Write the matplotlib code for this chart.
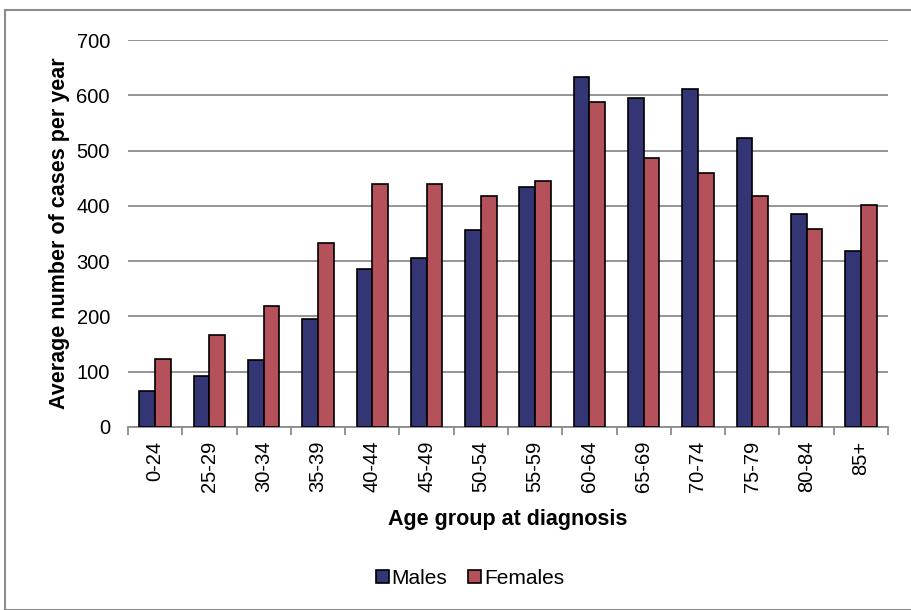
import numpy as np
import matplotlib
matplotlib.use('Agg')
import matplotlib.pyplot as plt
from matplotlib.patches import Rectangle

plt.rcParams['font.family'] = ['Liberation Sans', 'DejaVu Sans']

ageGroups = ['0-24', '25-29', '30-34', '35-39', '40-44', '45-49', '50-54',
             '55-59', '60-64', '65-69', '70-74', '75-79', '80-84', '85+']
males = [65, 92, 121, 196, 286, 306, 356, 434, 633, 595, 611, 522, 385, 318]
females = [123, 166, 219, 333, 439, 439, 417, 445, 588, 486, 459, 418, 358, 401]
yTicks = [0, 100, 200, 300, 400, 500, 600, 700]

maleColor = '#343575'
femaleColor = '#b5515a'

fig = plt.figure(figsize=(9.11, 6.10), dpi=100)
ax = fig.add_axes([128 / 911, 1 - 427 / 610, 760 / 911, 387 / 610])

# outer chart frame like the spreadsheet export
fig.patches.append(Rectangle((5 / 911, 0), 1.2, 1 - 10 / 610, transform=fig.transFigure,
                             fill=False, edgecolor='#8c8c8c', lw=1.5))

x = np.arange(len(ageGroups))
w = 0.29
ax.bar(x - w / 2, males, w, color=maleColor, edgecolor='black', lw=1.2, label='Males', zorder=3)
ax.bar(x + w / 2, females, w, color=femaleColor, edgecolor='black', lw=1.2, label='Females', zorder=3)

ax.set_xlim(-0.5, len(ageGroups) - 0.5)
ax.set_ylim(0, 700)
ax.set_yticks(yTicks)
ax.yaxis.grid(True, color='#8c8c8c', lw=1.3, zorder=0)
ax.tick_params(axis='y', length=0, labelsize=14.5, pad=13)

ax.set_xticks(x)
ax.set_xticklabels(ageGroups, rotation=90, fontsize=14.5)
ax.tick_params(axis='x', which='major', length=0, pad=10)
ax.set_xticks(np.arange(-0.5, len(ageGroups)), minor=True)
ax.tick_params(axis='x', which='minor', length=6, color='#8c8c8c', width=1.3)

for s in ['top', 'right', 'left']:
    ax.spines[s].set_visible(False)
ax.spines['bottom'].set_color('#8c8c8c')
ax.spines['bottom'].set_linewidth(1.3)

ax.set_ylabel('Average number of cases per year', fontsize=15.5, fontweight='bold')
ax.yaxis.set_label_coords((70 - 128) / 760, 0.5)
ax.set_xlabel('Age group at diagnosis', fontsize=15.5, fontweight='bold', labelpad=12)

fig.legend(loc='center', bbox_to_anchor=(470 / 911, 1 - 578 / 610), ncol=2, frameon=False,
           fontsize=15, handlelength=0.6, handleheight=0.6, handletextpad=0.15, columnspacing=1.0)

fig.savefig('out.png', dpi=100)
